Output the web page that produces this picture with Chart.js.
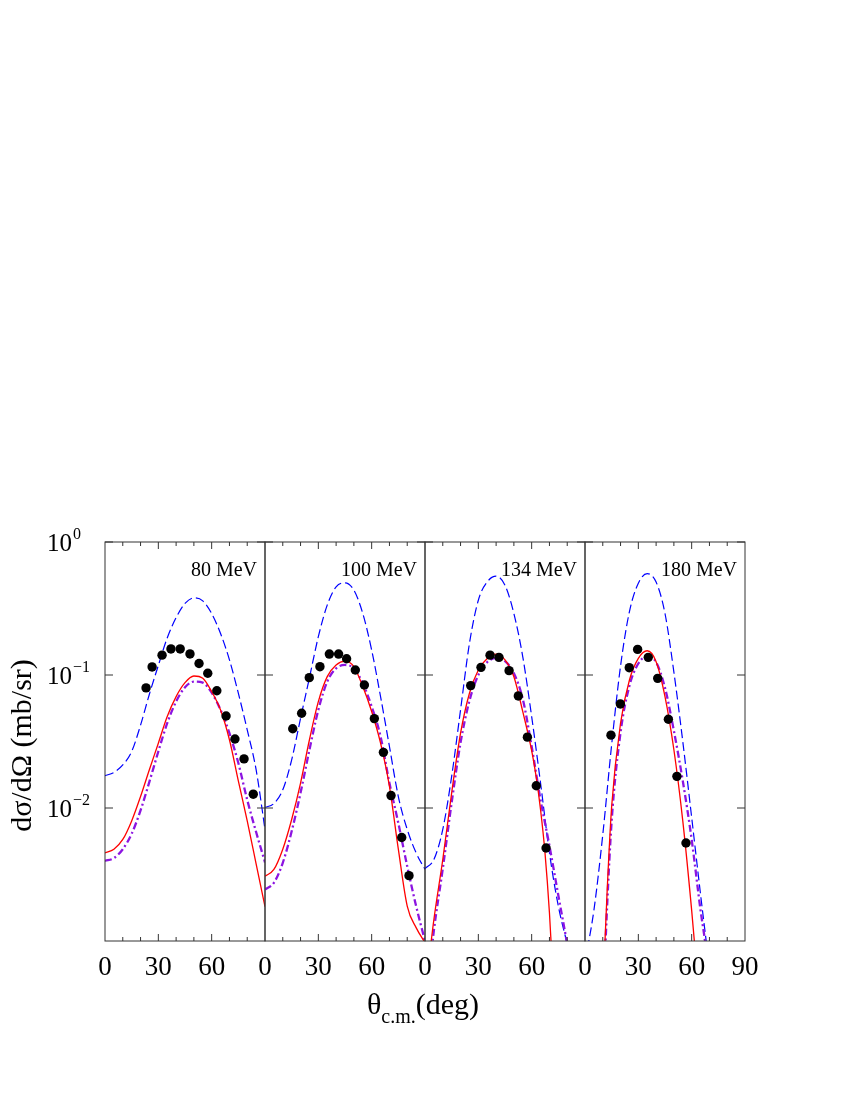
<!DOCTYPE html>
<html>
<head>
<meta charset="utf-8">
<script src="https://cdn.jsdelivr.net/npm/chart.js@4.4.1/dist/chart.umd.min.js"></script>
<style>
  html, body { margin: 0; padding: 0; background: #ffffff; }
  #wrap { position: relative; width: 850px; height: 1100px; }
  #wrap canvas { position: absolute; left: 0; top: 0; }
</style>
</head>
<body>
<div id="wrap">
  <canvas id="p0" width="850" height="1100"></canvas>
  <canvas id="p1" width="850" height="1100"></canvas>
  <canvas id="p2" width="850" height="1100"></canvas>
  <canvas id="p3" width="850" height="1100"></canvas>
</div>
<script>
// ---------------- data ----------------
const energies = ['80 MeV', '100 MeV', '134 MeV', '180 MeV'];

const xTickLabelsPanel = [[0, 30, 60], [0, 30, 60], [0, 30, 60], [0, 30, 60, 90]];
const xTickMarks = [10, 20, 30, 40, 50, 60, 70, 80];
const yTickValues = [1, 0.1, 0.01];
const yTickExponents = ['0', '\u22121', '\u22122'];

const angles = [0, 5, 10, 15, 20, 25, 30, 35, 40, 45, 50, 55, 60, 65, 70, 75, 80, 85, 90];

// 80 MeV
const blue80   = [0.0175, 0.0185, 0.0211, 0.0266, 0.042, 0.072, 0.118, 0.19, 0.27, 0.345, 0.380, 0.361, 0.290, 0.205, 0.130, 0.073, 0.0387, 0.0194, 0.0069];
const red80    = [0.0046, 0.0049, 0.0058, 0.0080, 0.0122, 0.0195, 0.0307, 0.0487, 0.0688, 0.0876, 0.0983, 0.0944, 0.075, 0.0546, 0.0326, 0.0160, 0.0080, 0.0038, 0.00181];
const purple80 = [0.0040, 0.0042, 0.0049, 0.0064, 0.0096, 0.0158, 0.0266, 0.0434, 0.0631, 0.0808, 0.0891, 0.0876, 0.0737, 0.0547, 0.0365, 0.0218, 0.0115, 0.0066, 0.0039];
const dotAng80 = [23.1, 26.5, 32.1, 37.1, 42.3, 47.8, 52.9, 57.8, 62.9, 68.1, 73.1, 78.2, 83.4];
const dotVal80 = [0.080, 0.115, 0.141, 0.157, 0.157, 0.144, 0.122, 0.103, 0.0762, 0.0492, 0.033, 0.0234, 0.0127];

// 100 MeV
const blue100   = [0.0101, 0.0108, 0.0137, 0.023, 0.0473, 0.0955, 0.194, 0.335, 0.46, 0.493, 0.434, 0.29, 0.154, 0.0688, 0.029, 0.0122, 0.0069, 0.0046, 0.00345];
const red100    = [0.00307, 0.00345, 0.0049, 0.0082, 0.0154, 0.0326, 0.063, 0.0972, 0.119, 0.127, 0.1155, 0.0818, 0.0531, 0.0307, 0.01454, 0.0049, 0.00183, 0.00126, 0.00097];
const purple100 = [0.00244, 0.00274, 0.00387, 0.00668, 0.013, 0.0274, 0.0547, 0.0891, 0.112, 0.119, 0.112, 0.0866, 0.0579, 0.0345, 0.0154, 0.0077, 0.00365, 0.00183, 0.0010];
const dotAng100 = [15.6, 20.6, 24.9, 30.9, 36.2, 41.4, 45.9, 50.8, 55.9, 61.5, 66.6, 70.9, 76.9, 81.0];
const dotVal100 = [0.0394, 0.0516, 0.0955, 0.1155, 0.1437, 0.1437, 0.1326, 0.109, 0.0841, 0.047, 0.0262, 0.0124, 0.0060, 0.0031];

// 134 MeV
const blue134   = [0.0035, 0.0041, 0.0069, 0.0173, 0.0547, 0.173, 0.365, 0.501, 0.553, 0.473, 0.29, 0.137, 0.0487, 0.0154, 0.0046, 0.00183, 0.00095, 0.0005, 0.0003];
const redAng134 = [0, 5, 10, 15, 20, 25, 30, 35, 40, 45, 50, 55, 60, 62.5, 65, 67.5, 70, 72.5];
const red134    = [0.0004, 0.00145, 0.0041, 0.013, 0.0365, 0.0729, 0.109, 0.133, 0.1437, 0.13, 0.097, 0.053, 0.027, 0.0173, 0.0097, 0.0046, 0.00163, 0.0004];
const purAng134 = [0, 5, 10, 15, 20, 25, 30, 35, 40, 45, 50, 55, 60, 65, 70, 75, 80, 85];
const purple134 = [0.0003, 0.0012, 0.0035, 0.011, 0.031, 0.064, 0.1, 0.125, 0.134, 0.127, 0.103, 0.066, 0.029, 0.0115, 0.0052, 0.0022, 0.00095, 0.0004];
const dotAng134 = [25.7, 31.5, 36.6, 41.6, 47.3, 52.5, 57.6, 62.6, 68.1];
const dotVal134 = [0.0832, 0.1142, 0.141, 0.1357, 0.1078, 0.0696, 0.0341, 0.0147, 0.0050];

// 180 MeV
const blueAng180 = [0, 5, 10, 15, 20, 25, 30, 35, 40, 45, 50, 55, 60, 65, 70];
const blue180    = [0.0007, 0.0017, 0.0063, 0.030, 0.117, 0.30, 0.49, 0.578, 0.50, 0.29, 0.105, 0.0316, 0.0085, 0.00224, 0.00063];
const redAng180  = [10, 12.5, 15, 20, 25, 30, 35, 40, 45, 50, 55, 60, 62.5];
const red180     = [0.0004, 0.00245, 0.0103, 0.0434, 0.0917, 0.1334, 0.1522, 0.126, 0.0688, 0.0274, 0.0080, 0.0017, 0.0007];
const purAng180  = [10, 12.5, 15, 20, 25, 30, 35, 40, 45, 50, 55, 60, 65, 67.5, 70];
const purple180  = [0.0003, 0.0019, 0.0080, 0.037, 0.083, 0.122, 0.138, 0.125, 0.080, 0.038, 0.016, 0.0058, 0.0017, 0.001, 0.0005];
const dotAng180 = [14.6, 19.9, 24.9, 29.6, 35.6, 40.9, 46.9, 51.7, 56.8];
const dotVal180 = [0.0353, 0.0606, 0.1135, 0.1558, 0.1357, 0.0944, 0.0465, 0.0173, 0.00546];

// ---------------- rendering ----------------
const FONT = "'Liberation Serif','DejaVu Serif','Times New Roman',serif";
const W = 850, H = 1100;
const PANEL_LEFT = 105, PANEL_W = 160, PANEL_TOP = 542, PANEL_BOTTOM = 941;

function pts(xs, ys) { return xs.map((x, i) => ({ x: x, y: ys[i] })); }

const panels = [
  { blue: pts(angles, blue80),  red: pts(angles, red80),  purple: pts(angles, purple80),  dots: pts(dotAng80, dotVal80) },
  { blue: pts(angles, blue100), red: pts(angles, red100), purple: pts(angles, purple100), dots: pts(dotAng100, dotVal100) },
  { blue: pts(angles, blue134), red: pts(redAng134, red134), purple: pts(purAng134, purple134), dots: pts(dotAng134, dotVal134) },
  { blue: pts(blueAng180, blue180), red: pts(redAng180, red180), purple: pts(purAng180, purple180), dots: pts(dotAng180, dotVal180) }
];

function decorPlugin(p) {
  return {
    id: 'decor' + p,
    afterDraw(chart) {
      const ctx = chart.ctx, a = chart.chartArea;
      const xs = chart.scales.x, ys = chart.scales.y;
      ctx.save();
      // frame
      ctx.strokeStyle = '#333';
      ctx.lineWidth = 1;
      ctx.strokeRect(a.left, a.top, a.right - a.left, a.bottom - a.top);
      // inward ticks
      ctx.beginPath();
      xTickMarks.forEach(v => {
        const x = xs.getPixelForValue(v);
        const len = (v % 30 === 0) ? 7 : 4;
        ctx.moveTo(x, a.bottom); ctx.lineTo(x, a.bottom - len);
        ctx.moveTo(x, a.top); ctx.lineTo(x, a.top + len);
      });
      yTickValues.forEach(v => {
        const y = ys.getPixelForValue(v);
        ctx.moveTo(a.left, y); ctx.lineTo(a.left + 8, y);
        ctx.moveTo(a.right, y); ctx.lineTo(a.right - 8, y);
      });
      ctx.stroke();

      ctx.fillStyle = '#000';
      // x tick labels
      ctx.font = '27px ' + FONT;
      ctx.textAlign = 'center';
      ctx.textBaseline = 'alphabetic';
      xTickLabelsPanel[p].forEach(v => {
        ctx.fillText(String(v), xs.getPixelForValue(v), 975);
      });
      // energy label
      ctx.font = '20px ' + FONT;
      ctx.textAlign = 'right';
      ctx.fillText(energies[p], a.right - 8, 576);

      if (p === 0) {
        // y tick labels 10^n
        ctx.textAlign = 'left';
        yTickValues.forEach((v, i) => {
          const y = ys.getPixelForValue(v);
          const base = y + 8.5;
          ctx.font = '25px ' + FONT;
          ctx.fillText('10', 47, base);
          const w = ctx.measureText('10').width;
          ctx.font = '16px ' + FONT;
          ctx.fillText(yTickExponents[i], 47 + w + 1, base - 12);
        });
        // y title
        ctx.save();
        ctx.translate(31, (PANEL_TOP + PANEL_BOTTOM) / 2 + 4);
        ctx.rotate(-Math.PI / 2);
        ctx.font = '30px ' + FONT;
        ctx.textAlign = 'center';
        ctx.fillText('d\u03c3/d\u03a9 (mb/sr)', 0, 0);
        ctx.restore();
        // x title  theta_c.m.(deg)
        ctx.textAlign = 'left';
        ctx.font = '30px ' + FONT;
        const wTheta = ctx.measureText('\u03b8').width;
        const wDeg = ctx.measureText('(deg)').width;
        ctx.font = '20px ' + FONT;
        const wSub = ctx.measureText('c.m.').width;
        const total = wTheta + wSub + wDeg;
        let x = 423 - total / 2;
        ctx.font = '30px ' + FONT;
        ctx.fillText('\u03b8', x, 1014);
        x += wTheta;
        ctx.font = '20px ' + FONT;
        ctx.fillText('c.m.', x, 1023);
        x += wSub;
        ctx.font = '30px ' + FONT;
        ctx.fillText('(deg)', x, 1014);
      }
      ctx.restore();
    }
  };
}

panels.forEach((pd, p) => {
  const left = PANEL_LEFT + PANEL_W * p;
  const right = left + PANEL_W;
  new Chart(document.getElementById('p' + p), {
    type: 'line',
    data: {
      datasets: [
        { data: pd.dots, showLine: false, pointRadius: 4.7, pointBorderWidth: 0,
          pointBackgroundColor: '#000', pointBorderColor: '#000', borderColor: '#000' },
        { data: pd.red, borderColor: '#ff0000', borderWidth: 1.3, pointRadius: 0,
          cubicInterpolationMode: 'monotone', fill: false },
        { data: pd.purple, borderColor: 'rgb(140,20,225)', borderWidth: 2.3, pointRadius: 0,
          borderDash: [7, 3, 2, 3], cubicInterpolationMode: 'monotone', fill: false },
        { data: pd.blue, borderColor: '#0000ff', borderWidth: 1.2, pointRadius: 0,
          borderDash: [9, 4], cubicInterpolationMode: 'monotone', fill: false }
      ]
    },
    options: {
      responsive: false,
      animation: false,
      devicePixelRatio: 1,
      layout: { padding: { left: left, right: W - right, top: PANEL_TOP, bottom: H - PANEL_BOTTOM } },
      plugins: { legend: { display: false }, tooltip: { enabled: false }, title: { display: false } },
      scales: {
        x: { type: 'linear', min: 0, max: 90, display: false },
        y: { type: 'logarithmic', min: 0.001, max: 1, display: false }
      }
    },
    plugins: [decorPlugin(p)]
  });
});
</script>
</body>
</html>
